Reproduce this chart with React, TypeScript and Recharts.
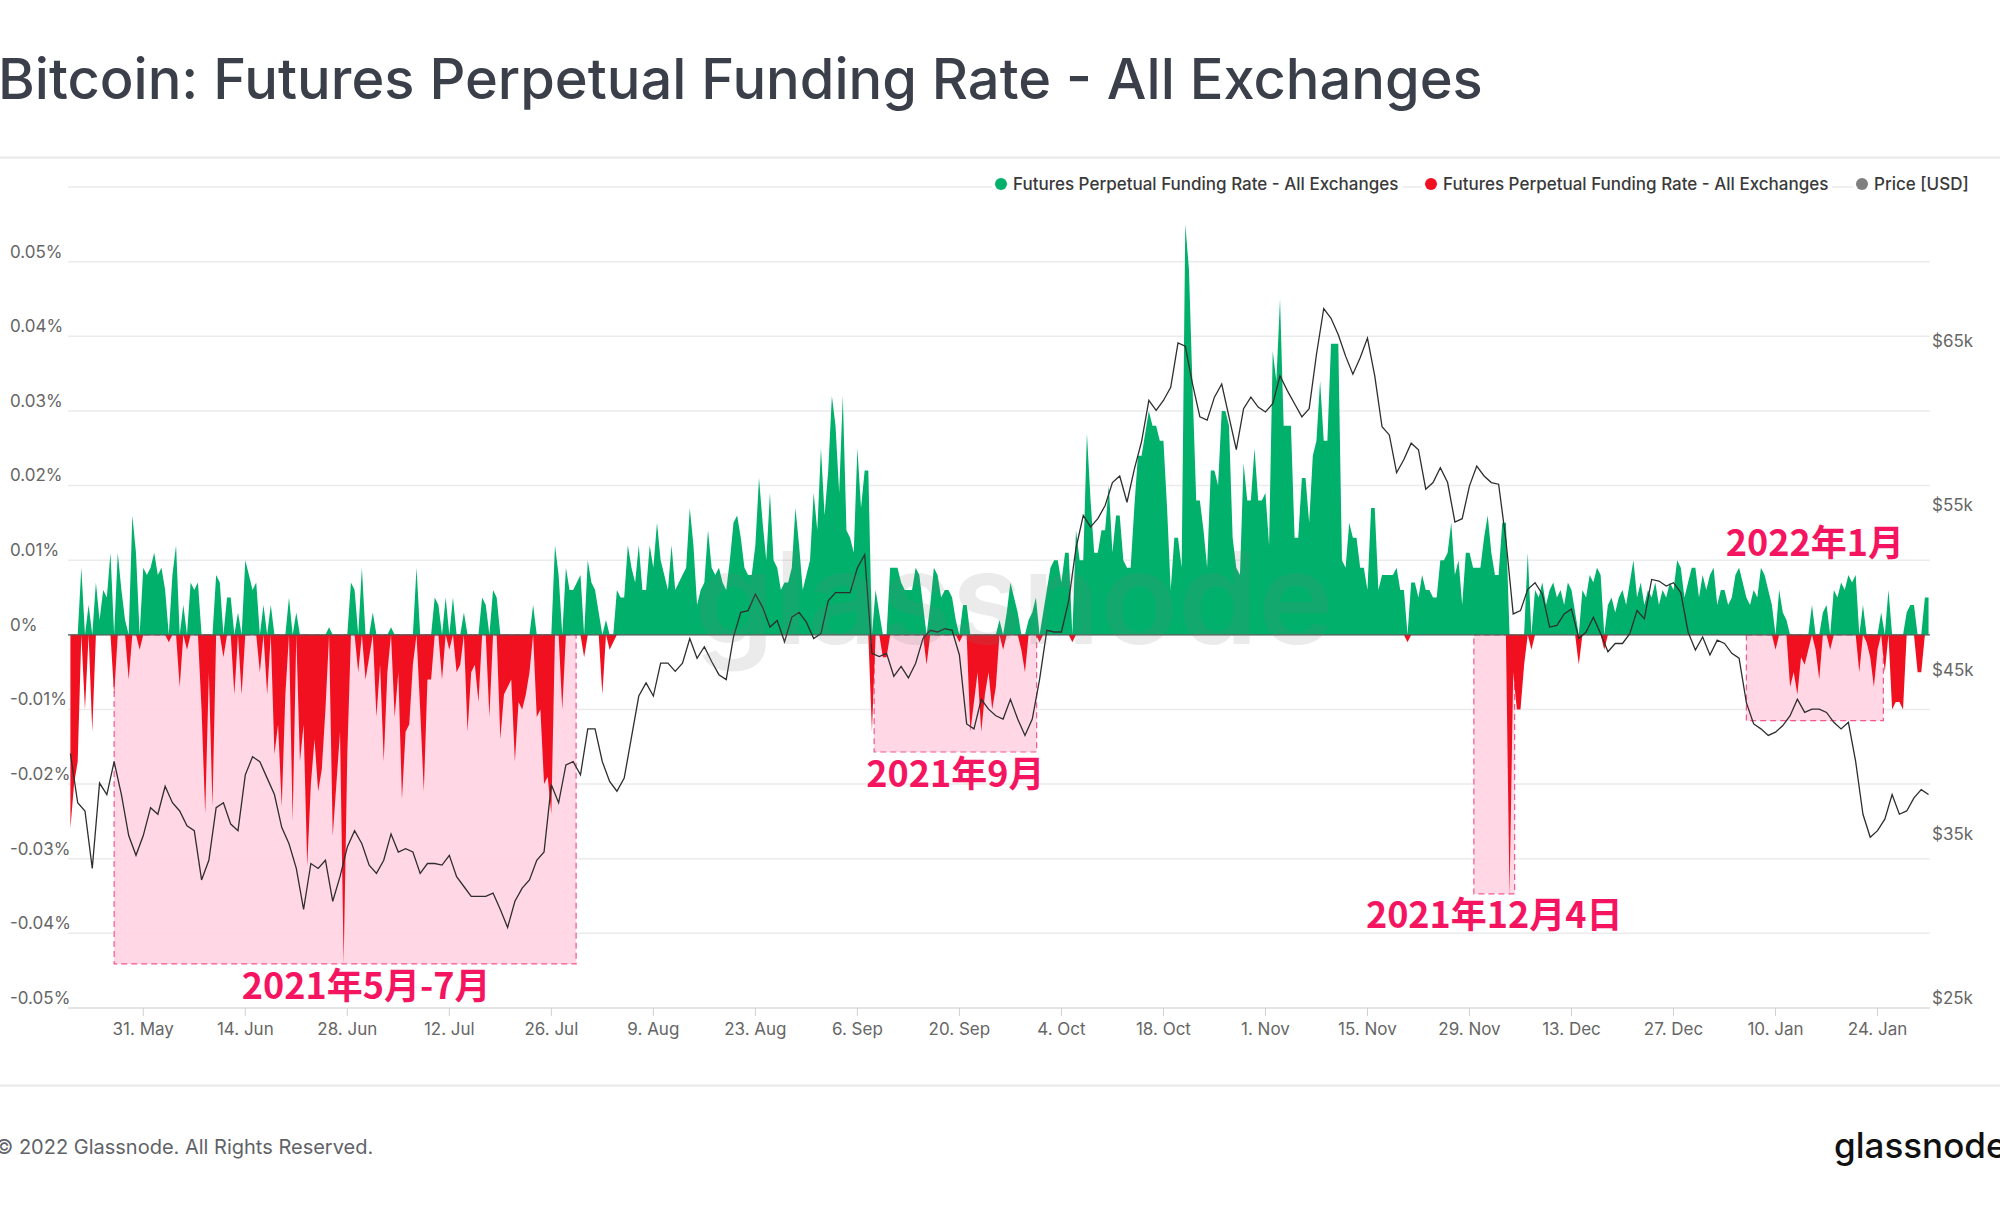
import React from "react";
import {
  ComposedChart,
  Area,
  Line,
  XAxis,
  YAxis,
  CartesianGrid,
  ReferenceArea,
  ReferenceLine,
} from "recharts";

// Funding rate (%), one value every 12 hours, starting 21 May 2021 00:00
const fundingMayJul = [
  -0.026, -0.02, -0.017, 0.009, -0.01, 0.004, -0.013, 0.007, 0.002, 0.006,
  0.005, 0.011, -0.008, 0.011, 0.006, 0.002, -0.006, 0.016, 0.011, -0.002,
  0.009, 0.008, 0.009, 0.011, 0.008, 0.009, 0.006, -0.001, 0.008, 0.012,
  -0.007, 0.004, -0.002, 0.007, 0.006, 0.007, -0.01, -0.024, -0.005, -0.023,
  0.008, 0.007, -0.003, 0.005, 0.005, -0.008, 0.003, -0.008, 0.01, 0.008,
  0.006, 0.007, -0.005, 0.004, -0.008, 0.004, -0.016, -0.012, -0.023, -0.008,
  0.005, -0.025, 0.003, -0.017, -0.012, -0.031, -0.02, -0.014, -0.021, -0.018,
  -0.01, 0.001, -0.027, -0.02, -0.013, -0.044, -0.016, 0.007, 0.006, -0.005,
  0.009, -0.006, -0.003, 0.003, -0.011, -0.004,
];
const fundingJulAug = [
  -0.017, -0.005, 0.001, -0.011, -0.005, -0.022, -0.013, -0.012, -0.004, 0.009,
  -0.01, -0.021, -0.006, -0.006, 0.005, 0.004, -0.006, 0.005, -0.002, 0.005,
  -0.005, -0.004, 0.003, -0.013, -0.005, -0.004, -0.009, 0.005, 0.004, -0.011,
  0.006, 0.005, -0.014, -0.008, -0.007, -0.006, -0.017, -0.009, -0.01, -0.008,
  -0.005, 0.004, -0.011, -0.01, -0.02, -0.019, -0.024, 0.012, 0.008, -0.01,
  0.009, 0.006, 0.006, 0.007, 0.008, -0.003, 0.01, 0.007, 0.006, 0.003,
  -0.008, 0.002, -0.002, -0.001, 0.006, 0.005, 0.005, 0.012, 0.009, 0.007,
  0.012, 0.006, 0.006, 0.012, 0.009, 0.015, 0.01, 0.008, 0.006, 0.012,
  0.006, 0.007, 0.008, 0.009, 0.017,
];
const fundingAugSep = [
  0.012, 0.004, 0.006, 0.007, 0.014, 0.009, 0.008, 0.009, 0.007, 0.006,
  0.01, 0.015, 0.016, 0.013, 0.009, 0.008, 0.008, 0.012, 0.021, 0.015,
  0.01, 0.019, 0.01, 0.009, 0.006, 0.007, 0.007, 0.009, 0.017, 0.012,
  0.006, 0.008, 0.01, 0.019, 0.014, 0.025, 0.016, 0.022, 0.032, 0.028,
  0.019, 0.032, 0.014, 0.013, 0.011, 0.025, 0.017, 0.022, 0.022, -0.013,
  0.006, 0.003, -0.003, -0.003, 0.009, 0.009, 0.009, 0.007, 0.006, 0.006,
  0.006, 0.009, 0.008, 0.004, -0.004, 0.004, 0.009, 0.008, 0.005, 0.006,
  0.006, 0.005, 0.002, -0.001, 0.004, 0.004, -0.013, -0.009, -0.005, -0.013,
  -0.008, -0.005, -0.01, -0.007,
];
const fundingSepNov = [
  0.002, -0.002, 0.003, 0.007, 0.005, 0.003, -0.002, -0.005, 0.002, 0.003,
  0.005, -0.001, 0.003, 0.006, 0.009, 0.01, 0.01, 0.007, 0.011, 0.011,
  -0.001, 0.014, 0.01, 0.01, 0.027, 0.018, 0.011, 0.011, 0.014, 0.014,
  0.02, 0.011, 0.016, 0.016, 0.01, 0.009, 0.009, 0.017, 0.024, 0.024,
  0.027, 0.03, 0.028, 0.028, 0.026, 0.026, 0.017, 0.006, 0.013, 0.013,
  0.009, 0.055, 0.049, 0.033, 0.018, 0.018, 0.014, 0.009, 0.022, 0.022,
  0.02, 0.03, 0.03, 0.028, 0.013, 0.009, 0.008, 0.023, 0.018, 0.018,
  0.025, 0.018, 0.018, 0.019, 0.012, 0.038, 0.034, 0.045, 0.028, 0.028,
  0.028, 0.013, 0.013, 0.021, 0.021, 0.015,
];
const fundingNovDec = [
  0.024, 0.026, 0.034, 0.026, 0.026, 0.039, 0.039, 0.039, 0.01, 0.009,
  0.015, 0.013, 0.013, 0.009, 0.009, 0.006, 0.017, 0.017, 0.006, 0.008,
  0.008, 0.008, 0.008, 0.009, 0.006, 0.006, -0.001, 0.007, 0.007, 0.005,
  0.008, 0.006, 0.006, 0.005, 0.005, 0.01, 0.01, 0.011, 0.015, 0.008,
  0.01, 0.004, 0.011, 0.011, 0.009, 0.009, 0.009, 0.013, 0.016, 0.011,
  0.008, 0.008, 0.015, 0.015, -0.035, -0.005, -0.01, -0.01, -0.004, 0.011,
  -0.002, 0.006, 0.005, 0.007, 0.004, 0.006, 0.007, 0.005, 0.006, 0.004,
  0.007, 0.006, 0.003, -0.004, 0.006, 0.005, 0.008, 0.007, 0.009, 0.008,
  -0.002, 0.004, 0.005, 0.003, 0.005,
];
const fundingDecJan = [
  0.006, 0.004, 0.007, 0.01, 0.005, 0.007, 0.004, 0.006, 0.005, 0.007,
  0.004, 0.006, 0.005, 0.007, 0.006, 0.01, 0.009, 0.005, 0.007, 0.009,
  0.009, 0.005, 0.008, 0.006, 0.008, 0.009, 0.004, 0.006, 0.006, 0.004,
  0.005, 0.008, 0.009, 0.007, 0.005, 0.004, 0.006, 0.005, 0.009, 0.008,
  0.006, 0.004, -0.002, 0.006, 0.003, 0.002, -0.007, -0.005, -0.008, -0.003,
  -0.004, -0.002, 0.004, -0.002, -0.006, 0.003, 0.004, -0.002, 0.006, 0.005,
  0.007, 0.006, 0.008, 0.007, 0.008, -0.005, 0.004, -0.001, -0.003, -0.007,
  -0.002, 0.003, -0.005, 0.006, -0.01, -0.009, -0.009, -0.01, 0.003, 0.004,
  0.004, -0.005, -0.005, 0.005, 0.005,
];

// BTC price (thousand USD), one value per day, starting 21 May 2021
const priceMayJul = [
  40.5, 37.5, 37.0, 33.5, 38.7, 38.0, 40.0, 38.0, 35.5, 34.3,
  35.5, 37.2, 36.8, 38.5, 37.5, 37.0, 36.1, 35.8, 32.8, 34.0,
  37.2, 37.5, 36.2, 35.8, 39.2, 40.3, 40.0, 39.0, 38.0, 36.0,
  35.0, 33.5, 31.0, 33.8, 33.5, 34.0, 31.5, 33.0, 34.8, 35.8,
  35.0, 33.7, 33.2, 34.0, 35.6, 34.5, 34.7, 34.5, 33.2, 33.8,
];
const priceJulAug = [
  33.8, 33.7, 34.3, 33.0, 32.4, 31.8, 31.8, 31.8, 32.0, 31.0,
  29.9, 31.5, 32.3, 32.8, 34.0, 34.5, 38.6, 37.5, 39.8, 40.0,
  39.2, 42.0, 42.0, 40.0, 38.8, 38.2, 39.0, 41.5, 44.0, 44.8,
  44.0, 46.0, 46.0, 45.5, 46.0, 47.5, 46.3, 47.0, 46.1, 45.3,
  45.0, 47.6, 49.1, 49.2, 50.2, 49.4, 48.2, 48.6, 47.3, 48.8,
];
const priceSepOct = [
  49.1, 48.5, 47.5, 47.8, 49.8, 50.3, 50.3, 50.3, 51.8, 52.6,
  46.6, 46.4, 46.6, 45.2, 45.8, 45.1, 46.0, 47.5, 48.0, 47.9,
  48.1, 48.0, 46.5, 42.3, 42.0, 43.8, 43.2, 42.8, 42.6, 43.8,
  42.6, 41.6, 42.6, 45.0, 48.0, 47.9, 47.9, 49.8, 53.0, 55.0,
  54.3, 54.8, 55.6, 57.0, 57.4, 55.8, 57.8, 59.5, 62.0, 61.4,
];
const priceOctDec = [
  62.0, 62.8, 65.5, 65.3, 63.0, 61.0, 60.8, 62.2, 63.0, 61.0,
  59.0, 61.5, 62.2, 61.6, 61.3, 61.8, 63.5, 62.6, 61.8, 61.0,
  61.5, 64.8, 67.6, 67.0, 66.0, 64.7, 63.6, 64.6, 65.8, 63.5,
  60.4, 59.9, 57.6, 58.4, 59.4, 59.0, 56.6, 57.0, 57.9, 57.0,
  54.6, 54.8, 56.8, 58.0, 57.4, 57.0, 56.9, 53.5, 49.0, 49.2,
];
const priceDecJan = [
  50.5, 50.9, 50.2, 48.2, 48.3, 49.0, 49.3, 47.5, 47.9, 48.8,
  47.8, 46.7, 47.2, 47.2, 47.8, 49.2, 48.7, 51.1, 51.0, 50.7,
  50.9, 50.3, 47.9, 46.8, 47.6, 46.5, 47.4, 47.2, 46.6, 46.3,
  43.6, 42.3, 42.0, 41.6, 41.8, 42.2, 42.8, 43.8, 43.0, 43.2,
  43.2, 43.0, 42.4, 42.0, 42.4, 40.0, 36.8, 35.4, 35.8, 36.5,
  38.0, 36.8, 37.0, 37.8, 38.3, 38.0,
];

// Axis ticks (days after 21 May 2021)
const dateTicks = [10, 24, 38, 52, 66, 80, 94, 108, 122, 136, 150, 164, 178, 192, 206, 220, 234, 248];
const dateTickLabels = [
  "31. May", "14. Jun", "28. Jun", "12. Jul", "26. Jul", "9. Aug", "23. Aug", "6. Sep", "20. Sep",
  "4. Oct", "18. Oct", "1. Nov", "15. Nov", "29. Nov", "13. Dec", "27. Dec", "10. Jan", "24. Jan",
];
const fundingTicks = [-0.05, -0.04, -0.03, -0.02, -0.01, 0, 0.01, 0.02, 0.03, 0.04, 0.05, 0.06];
const priceTicks = [25, 35, 45, 55, 65];

// Highlighted periods (day range, lowest funding rate)
const highlightFrom = [6.0, 110.3, 192.6, 230.0];
const highlightTo = [69.4, 132.6, 198.2, 248.8];
const highlightLow = [-0.0441, -0.0157, -0.0347, -0.0115];
const highlightText = ["2021年5月-7月", "2021年9月", "2021年12月4日", "2022年1月"];

const SERIES_NAME = "Futures Perpetual Funding Rate - All Exchanges";

const funding = [
  ...fundingMayJul,
  ...fundingJulAug,
  ...fundingAugSep,
  ...fundingSepNov,
  ...fundingNovDec,
  ...fundingDecJan,
];
const price = [...priceMayJul, ...priceJulAug, ...priceSepOct, ...priceOctDec, ...priceDecJan];

const rows = funding.map((f, i) => ({
  t: i / 2,
  up: f > 0 ? f : 0,
  down: f < 0 ? f : 0,
  price: i % 2 === 0 ? price[i / 2] : null,
}));

// style / layout
const W = 2000;
const H = 1211;
const GREEN = "#00b06b";
const RED = "#f0101f";
const PINK_TEXT = "#f5145f";
const labelPlacement = [
  { below: true, shift: 21 },
  { below: true, shift: 0 },
  { below: true, shift: 0 },
  { below: false, shift: 0 },
];

const fmtFunding = (v: number) => (v === 0 ? "0%" : `${v.toFixed(2)}%`);

const LeftTick = (props: any) => {
  const { y, payload } = props;
  if (payload.value > 0.055) return <g />;
  return (
    <text x={10} y={y - 10} dy="0.35em" fill="#666" fontSize={17} textAnchor="start" fontFamily="Inter">
      {fmtFunding(payload.value)}
    </text>
  );
};

const RightTick = (props: any) => {
  const { x, y, payload } = props;
  return (
    <text x={x + 2} y={y - 10} dy="0.35em" fill="#666" fontSize={17} textAnchor="start" fontFamily="Inter">
      {`$${payload.value}k`}
    </text>
  );
};

const BottomTick = (props: any) => {
  const { x, y, payload } = props;
  const idx = dateTicks.indexOf(payload.value);
  return (
    <g>
      <line x1={x} x2={x} y1={y} y2={y + 8} stroke="#d0d0d0" strokeWidth={1} />
      <text x={x} y={y + 21} dy="0.35em" fill="#666" fontSize={17} textAnchor="middle" fontFamily="Inter">
        {idx >= 0 ? dateTickLabels[idx] : ""}
      </text>
    </g>
  );
};

const makeHighlightLabel = (i: number) => (props: any) => {
  const vb = props.viewBox || {};
  const { below, shift } = labelPlacement[i];
  const cx = vb.x + vb.width / 2 + shift;
  const cy = below ? vb.y + vb.height + 22 : vb.y - 91;
  return (
    <text
      x={cx}
      y={cy}
      dy="0.35em"
      textAnchor="middle"
      fill={PINK_TEXT}
      fontSize={36}
      fontWeight={700}
      fontFamily="'Noto Sans CJK SC', 'Noto Sans CJK JP', sans-serif"
    >
      {highlightText[i]}
    </text>
  );
};

const legendItems = [
  { color: GREEN, text: SERIES_NAME, cx: 1001, w: 392 },
  { color: RED, text: SERIES_NAME, cx: 1431, w: 392 },
  { color: "#7f7f7f", text: "Price [USD]", cx: 1862, w: 110 },
];

export default function App() {
  return (
    <div
      style={{
        position: "absolute",
        left: 0,
        top: 0,
        width: W,
        height: H,
        background: "#fff",
        overflow: "hidden",
        fontFamily: "Inter, 'Noto Sans', sans-serif",
      }}
    >
      <svg width={W} height={H} style={{ position: "absolute", left: 0, top: 0 }}>
        <text x={-2} y={99} fontSize={56} fill="#3b3f4a" fontWeight={500} fontFamily="Inter">
          Bitcoin: Futures Perpetual Funding Rate - All Exchanges
        </text>
        <line x1={0} x2={W} y1={157.5} y2={157.5} stroke="#e8e8e8" strokeWidth={2} />
        <line x1={0} x2={W} y1={1085.5} y2={1085.5} stroke="#e8e8e8" strokeWidth={2} />
        <text x={-5} y={1154} fontSize={20} fill="#5f6368" fontFamily="Inter">
          © 2022 Glassnode. All Rights Reserved.
        </text>
        <text x={1834} y={1158} fontSize={35} fill="#111" fontWeight={500} fontFamily="Inter">
          glassnode
        </text>
      </svg>
      <div style={{ position: "absolute", left: 0, top: 0 }}>
        <ComposedChart width={W} height={H} data={rows} margin={{ top: 187, right: 0, bottom: 0, left: 0 }}>
          <CartesianGrid yAxisId="f" vertical={false} stroke="#ebebeb" strokeWidth={1.5} />
          <XAxis
            dataKey="t"
            type="number"
            domain={[-0.33, 255.2]}
            allowDataOverflow
            ticks={dateTicks}
            interval={0}
            height={203}
            tickSize={0}
            tickMargin={0}
            tick={<BottomTick />}
            axisLine={{ stroke: "#d8d8d8" }}
          />
          <YAxis
            yAxisId="f"
            type="number"
            domain={[-0.05, 0.06]}
            ticks={fundingTicks}
            interval={0}
            allowDataOverflow
            width={68}
            axisLine={false}
            tickLine={false}
            tickSize={0}
            tickMargin={0}
            tick={<LeftTick />}
          />
          <YAxis
            yAxisId="p"
            orientation="right"
            type="number"
            domain={[25, 75]}
            ticks={priceTicks}
            interval={0}
            allowDataOverflow
            width={70}
            axisLine={false}
            tickLine={false}
            tickSize={0}
            tickMargin={0}
            tick={<RightTick />}
          />
          {highlightText.map((_, i) => (
            <ReferenceArea
              key={i}
              yAxisId="f"
              x1={highlightFrom[i]}
              x2={highlightTo[i]}
              y1={highlightLow[i]}
              y2={0}
              fill="#ffd3e2"
              fillOpacity={0.9}
              stroke="#f2578e"
              strokeDasharray="6 4"
              strokeWidth={1.2}
              label={makeHighlightLabel(i)}
            />
          ))}
          <Area
            yAxisId="f"
            type="linear"
            dataKey="up"
            name={SERIES_NAME}
            baseValue={0}
            stroke="none"
            fill={GREEN}
            fillOpacity={1}
            isAnimationActive={false}
          />
          <Area
            yAxisId="f"
            type="linear"
            dataKey="down"
            name={SERIES_NAME}
            baseValue={0}
            stroke="none"
            fill={RED}
            fillOpacity={1}
            isAnimationActive={false}
          />
          <ReferenceLine yAxisId="f" y={0} stroke="#4f5a55" strokeWidth={1.2} />
          <Line
            yAxisId="p"
            type="linear"
            dataKey="price"
            name="Price [USD]"
            stroke="#2e2e2e"
            strokeWidth={1.3}
            dot={false}
            connectNulls
            isAnimationActive={false}
          />
        </ComposedChart>
      </div>
      <svg width={W} height={H} style={{ position: "absolute", left: 0, top: 0, pointerEvents: "none" }}>
        <text
          x={1014}
          y={644}
          fontSize={128}
          fontWeight={600}
          fill="#808080"
          opacity={0.15}
          textAnchor="middle"
          fontFamily="Inter"
        >
          glassnode
        </text>
        {legendItems.map((it, k) => (
          <g key={k}>
            <rect x={it.cx - 9} y={173} width={it.w + 18} height={24} fill="#fff" />
            <circle cx={it.cx} cy={184} r={6} fill={it.color} />
            <text x={it.cx + 12} y={184} dy="0.35em" fontSize={17} fill="#3a3a3a" fontWeight={500} fontFamily="Inter">
              {it.text}
            </text>
          </g>
        ))}
      </svg>
    </div>
  );
}
